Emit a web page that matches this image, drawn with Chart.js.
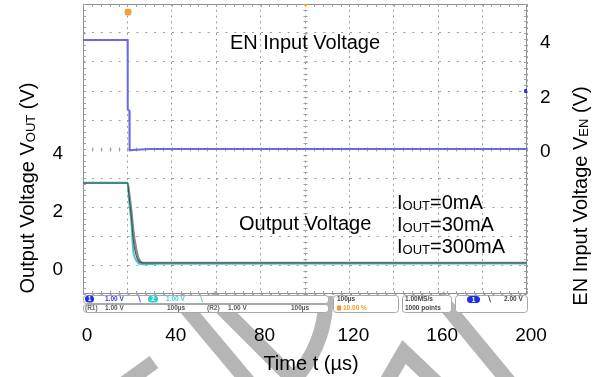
<!DOCTYPE html>
<html>
<head>
<meta charset="utf-8">
<script src="https://cdn.jsdelivr.net/npm/chart.js@4.4.1/dist/chart.umd.min.js"></script>
<style>
  html, body { margin: 0; padding: 0; background: #fff; }
</style>
</head>
<body>
<canvas id="c" width="600" height="377"></canvas>
<script>
const gridTimes = [0, 20, 40, 60, 80, 100, 120, 140, 160, 180, 200];
const timeTicks = [0, 40, 80, 120, 160, 200];
const gridVolts = [-1, 0, 1, 2, 3, 4, 5, 6, 7, 8, 9];
const voutTicks = [0, 2, 4];
const venTicks = [0, 2, 4];

// EN input voltage (right axis)
const enTime = [0, 20.1, 20.15, 20.9, 21.0, 24, 30, 200];
const enVolt = [4.0, 4.0, 1.45, 1.4, -0.05, -0.03, 0, 0];

// output voltage, three load currents (left axis)
const outTime = [0, 20.1, 20.7, 21.3, 21.9, 22.6, 23.4, 24.8, 27, 35, 200];
const vout300 = [2.83, 2.83, 2.24, 1.78, 1.31, 0.5, 0.24, 0.07, 0.02, 0.04, 0.05];
const vout30 = [2.83, 2.83, 2.55, 2.18, 1.8, 1.25, 0.8, 0.28, 0.07, 0.07, 0.07];
const vout0 = [2.83, 2.83, 2.4, 1.98, 1.55, 0.9, 0.5, 0.16, 0.07, 0.07, 0.07];

const trigLevel = [{ x: 199.6, y: 2.13 }];
const trigPos = [{ x: 20.3, y: 8.72 }];

const FONT = '"Liberation Sans", Arial, sans-serif';
const pts = (xs, ys) => xs.map((x, i) => ({ x, y: ys[i] }));

// fixed plot box, no extra room for edge labels
const fixBox = (w, h) => (s) => {
  if (w != null) s.width = w;
  if (h != null) s.height = h;
  s.paddingTop = s.paddingBottom = s.paddingLeft = s.paddingRight = 0;
};

// draw text made of pieces with different sizes (for subscripts)
function richWidth(ctx, parts) {
  let w = 0;
  parts.forEach(([t, sz]) => { ctx.font = `${sz}px ${FONT}`; w += ctx.measureText(t).width; });
  return w;
}
function richText(ctx, parts, x, y) {
  let cx = x;
  parts.forEach(([t, sz, dy]) => {
    ctx.font = `${sz}px ${FONT}`;
    ctx.fillText(t, cx, y + (dy || 0));
    cx += ctx.measureText(t).width;
  });
}

const scopeBg = {
  id: 'scopeBg',
  beforeDraw(chart) {
    const ctx = chart.ctx;
    ctx.save();
    ctx.fillStyle = '#fff';
    ctx.fillRect(0, 0, chart.width, chart.height);

    // watermark bands
    ctx.strokeStyle = '#b5b5b5';
    ctx.lineWidth = 15;
    const line = (a) => {
      ctx.beginPath();
      ctx.moveTo(a[0], a[1]);
      for (let i = 2; i < a.length; i += 2) ctx.lineTo(a[i], a[i + 1]);
      ctx.stroke();
    };
    line([178, 298, 255, 390]);
    line([210, 296, 294, 380]);
    ctx.beginPath();
    ctx.moveTo(326, 296);
    ctx.quadraticCurveTo(326, 345, 292, 382);
    ctx.stroke();
    line([118, 388, 154, 362]);
    line([382, 390, 404, 352, 446, 392]);
    line([438, 296, 514, 388]);

    // status bar of the scope
    const box = (x, y, w, h) => {
      ctx.beginPath();
      ctx.roundRect(x + 0.5, y + 0.5, w, h, 3);
      ctx.fillStyle = '#fff';
      ctx.fill();
      ctx.strokeStyle = '#a8a8a8';
      ctx.lineWidth = 1;
      ctx.stroke();
    };
    const pill = (x, y, w, c, s) => {
      ctx.beginPath();
      ctx.roundRect(x, y, w, 7, 3.5);
      ctx.fillStyle = c;
      ctx.fill();
      ctx.fillStyle = '#fff';
      ctx.textAlign = 'center';
      ctx.fillText(s, x + w / 2, y + 3.8);
      ctx.textAlign = 'left';
    };
    const txt = (s, x, y, c) => { ctx.fillStyle = c; ctx.fillText(s, x, y); };

    box(83, 295, 245, 8);
    box(83, 304, 245, 8);
    box(333, 295, 65, 17);
    box(402, 295, 49, 17);
    box(455, 295, 72, 17);

    ctx.font = `bold 6.5px ${FONT}`;
    ctx.textBaseline = 'middle';
    pill(85, 295.5, 9, '#1f2fe6', '1');
    txt('1.00 V', 105, 299.3, '#3b3bf0');
    txt('\u2216', 137, 299.3, '#3b3bf0');
    pill(148, 295.5, 10, '#2dcccc', '2');
    txt('1.00 V', 166, 299.3, '#3fd2d2');
    txt('\u2216', 199, 299.3, '#3fd2d2');

    txt('(R1)', 85, 308.3, '#666');
    txt('1.00 V', 105, 308.3, '#555');
    txt('100\u00b5s', 167, 308.3, '#555');
    txt('(R2)', 207, 308.3, '#666');
    txt('1.00 V', 228, 308.3, '#555');
    txt('100\u00b5s', 291, 308.3, '#555');

    txt('100\u00b5s', 337, 299.5, '#444');
    ctx.fillStyle = '#f59a1c';
    ctx.fillRect(337, 305.5, 4, 5);
    txt('10.00 %', 343, 308.3, '#f59a1c');

    txt('1.00MS/s', 405, 299.5, '#444');
    txt('1000 points', 405, 308.3, '#444');

    pill(467, 296, 13, '#1f2fe6', '1');
    txt('\u2216', 487, 299.5, '#333');
    txt('2.00 V', 504, 299.5, '#444');
    ctx.restore();
  },
  beforeDatasetsDraw(chart) {
    const { ctx, chartArea: a, scales } = chart;
    ctx.save();
    ctx.strokeStyle = '#8f8f8f';
    ctx.lineWidth = 1;
    ctx.strokeRect(a.left + 0.5, a.top + 0.5, a.right - a.left - 1, a.bottom - a.top - 1);

    // minor ticks on frame and crosshair
    ctx.strokeStyle = '#a0a0a0';
    const cx = Math.round(scales.x.getPixelForValue(100)) + 0.5;
    const cy = Math.round(scales.y.getPixelForValue(4)) + 0.5;
    const dx = (scales.x.getPixelForValue(20) - scales.x.getPixelForValue(0)) / 5;
    const dy = (scales.y.getPixelForValue(0) - scales.y.getPixelForValue(1)) / 5;
    ctx.beginPath();
    for (let x = a.left; x <= a.right + 0.1; x += dx) {
      const px = Math.round(x) + 0.5;
      ctx.moveTo(px, a.top); ctx.lineTo(px, a.top + 3);
      ctx.moveTo(px, a.bottom); ctx.lineTo(px, a.bottom - 3);
      ctx.moveTo(px, cy - 2); ctx.lineTo(px, cy + 2);
    }
    for (let y = a.top; y <= a.bottom + 0.1; y += dy) {
      const py = Math.round(y) + 0.5;
      ctx.moveTo(a.left, py); ctx.lineTo(a.left + 3, py);
      ctx.moveTo(a.right, py); ctx.lineTo(a.right - 3, py);
      ctx.moveTo(cx - 2, py); ctx.lineTo(cx + 2, py);
    }
    ctx.stroke();

    // small orange marker on the top frame (screen centre)
    ctx.fillStyle = '#f5a033';
    ctx.beginPath();
    ctx.moveTo(cx - 2.5, a.top);
    ctx.lineTo(cx + 2.5, a.top);
    ctx.lineTo(cx, a.top + 3);
    ctx.fill();
    ctx.restore();
  },
  afterDraw(chart) {
    const ctx = chart.ctx;
    ctx.save();
    ctx.fillStyle = '#000';
    ctx.textBaseline = 'alphabetic';
    ctx.textAlign = 'left';

    // in-plot labels
    ctx.font = `20px ${FONT}`;
    ctx.textAlign = 'center';
    ctx.fillText('EN Input Voltage', 305, 49);
    ctx.fillText('Time t (\u00b5s)', 311, 370);
    ctx.textAlign = 'left';
    ctx.fillText('Output Voltage', 239, 230);
    richText(ctx, [['I', 20], ['OUT', 13, 1], ['=0mA', 20]], 397, 209);
    richText(ctx, [['I', 20], ['OUT', 13, 1], ['=30mA', 20]], 397, 231);
    richText(ctx, [['I', 20], ['OUT', 13, 1], ['=300mA', 20]], 397, 253);

    // rotated axis titles
    const vTitle = (parts, x, y) => {
      const w = richWidth(ctx, parts);
      ctx.save();
      ctx.translate(x, y);
      ctx.rotate(-Math.PI / 2);
      richText(ctx, parts, -w / 2, 7);
      ctx.restore();
    };
    vTitle([['Output Voltage V', 20], ['OUT', 13, 1], [' (V)', 20]], 27, 188);
    vTitle([['EN Input Voltage V', 20], ['EN', 13, 1], [' (V)', 20]], 580, 196);
    ctx.restore();
  }
};

const tickFont = { family: FONT, size: 19 };

new Chart(document.getElementById('c'), {
  type: 'line',
  data: {
    datasets: [
      { label: 'trigger level', type: 'scatter', data: trigLevel, yAxisID: 'y2', pointRadius: 2.2, pointBackgroundColor: '#2a2af0', pointBorderWidth: 0 },
      { label: 'trigger pos', type: 'scatter', data: trigPos, yAxisID: 'y', pointStyle: 'rectRounded', pointRadius: 4, pointBackgroundColor: '#f5a033', pointBorderWidth: 0 },
      { label: 'EN', data: pts(enTime, enVolt), yAxisID: 'y2', borderColor: '#6a6ae8', borderWidth: 2, pointRadius: 0, tension: 0 },
      { label: 'IOUT=0mA', data: pts(outTime, vout0), yAxisID: 'y', borderColor: '#4a4a4a', borderWidth: 1.1, pointRadius: 0, cubicInterpolationMode: 'monotone' },
      { label: 'IOUT=300mA', data: pts(outTime, vout300), yAxisID: 'y', borderColor: '#3fcaca', borderWidth: 1.8, pointRadius: 0, cubicInterpolationMode: 'monotone' },
      { label: 'IOUT=30mA', data: pts(outTime, vout30), yAxisID: 'y', borderColor: '#8a8a8a', borderWidth: 2.2, pointRadius: 0, cubicInterpolationMode: 'monotone' }
    ]
  },
  options: {
    responsive: false,
    animation: false,
    devicePixelRatio: 1,
    layout: { padding: { top: 4, left: 0, right: 0, bottom: 0 } },
    plugins: { legend: { display: false }, tooltip: { enabled: false } },
    scales: {
      x: {
        type: 'linear', min: 0, max: 200,
        afterFit: fixBox(null, 83),
        afterBuildTicks: (s) => { s.ticks = gridTimes.map((v) => ({ value: v })); },
        ticks: {
          callback: (v) => (timeTicks.includes(v) ? String(v) : ''),
          padding: 30, labelOffset: 4, color: '#000', font: tickFont,
          maxRotation: 0, autoSkip: false
        },
        grid: { color: '#9c9c9c', lineWidth: 1, drawTicks: false },
        border: { display: false, dash: [2, 3.8] }
      },
      y: {
        position: 'left', min: -1, max: 9,
        afterFit: fixBox(83, null),
        afterBuildTicks: (s) => { s.ticks = gridVolts.map((v) => ({ value: v })); },
        ticks: {
          callback: (v) => (voutTicks.includes(v) ? String(v) : ''),
          padding: 20, labelOffset: 5, color: '#000', font: tickFont, autoSkip: false
        },
        grid: { color: '#9c9c9c', lineWidth: 1, drawTicks: false },
        border: { display: false, dash: [2, 6.9] }
      },
      y2: {
        position: 'right', min: -5.32, max: 5.32,
        afterFit: fixBox(73, null),
        afterBuildTicks: (s) => { s.ticks = venTicks.map((v) => ({ value: v })); },
        ticks: { padding: 13, labelOffset: 3, color: '#000', font: tickFont, autoSkip: false },
        grid: { display: false, drawTicks: false },
        border: { display: false }
      }
    }
  },
  plugins: [scopeBg]
});
</script>
</body>
</html>
